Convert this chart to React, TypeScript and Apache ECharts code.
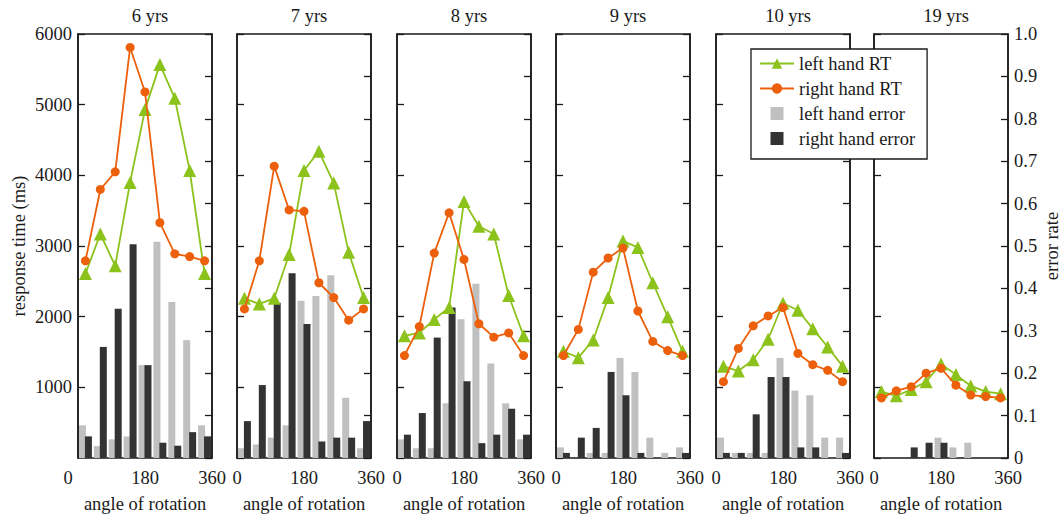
import React, { useEffect, useRef } from "react";
import * as echarts from "echarts";

// ---- data ----
const angles = ["0", "45", "90", "135", "180", "225", "270", "315", "360"];
const panelTitles = ["6 yrs", "7 yrs", "8 yrs", "9 yrs", "10 yrs", "19 yrs"];

const leftRT6 = [2610, 3170, 2720, 3900, 4930, 5570, 5090, 4070, 2610];
const rightRT6 = [2790, 3800, 4050, 5810, 5180, 3330, 2890, 2850, 2790];
const leftErr6 = [0.077, 0.028, 0.044, 0.051, 0.219, 0.51, 0.368, 0.278, 0.077];
const rightErr6 = [0.051, 0.262, 0.352, 0.504, 0.219, 0.036, 0.029, 0.061, 0.051];

const leftRT7 = [2260, 2180, 2260, 2880, 4070, 4340, 3890, 2910, 2270];
const rightRT7 = [2110, 2790, 4130, 3510, 3490, 2480, 2270, 1950, 2110];
const leftErr7 = [0.023, 0.032, 0.048, 0.077, 0.371, 0.382, 0.431, 0.142, 0.023];
const rightErr7 = [0.087, 0.172, 0.366, 0.436, 0.316, 0.039, 0.048, 0.048, 0.087];

const leftRT8 = [1730, 1770, 1960, 2130, 3630, 3280, 3170, 2300, 1730];
const rightRT8 = [1450, 1860, 2900, 3470, 2810, 1900, 1710, 1770, 1450];
const leftErr8 = [0.044, 0.023, 0.023, 0.129, 0.327, 0.411, 0.223, 0.129, 0.044];
const rightErr8 = [0.055, 0.106, 0.284, 0.355, 0.181, 0.035, 0.055, 0.116, 0.055];

const leftRT9 = [1510, 1420, 1670, 2270, 3070, 2980, 2480, 2000, 1510];
const rightRT9 = [1450, 1820, 2630, 2830, 2970, 2080, 1650, 1520, 1450];
const leftErr9 = [0.025, 0, 0.012, 0.012, 0.236, 0.203, 0.048, 0.012, 0.025];
const rightErr9 = [0.012, 0.048, 0.071, 0.203, 0.148, 0.012, 0, 0, 0.012];

const leftRT10 = [1300, 1230, 1390, 1680, 2190, 2090, 1830, 1570, 1300];
const rightRT10 = [1080, 1550, 1870, 2010, 2130, 1480, 1320, 1240, 1080];
const leftErr10 = [0.048, 0.012, 0.012, 0.012, 0.236, 0.159, 0.148, 0.048, 0.048];
const rightErr10 = [0.012, 0.012, 0.103, 0.191, 0.191, 0.025, 0.025, 0, 0.012];

const leftRT19 = [940, 880, 970, 1080, 1330, 1180, 1020, 940, 910];
const rightRT19 = [850, 950, 1010, 1200, 1270, 1030, 890, 870, 850];
const leftErr19 = [0, 0, 0, 0, 0.048, 0.025, 0.036, 0, 0];
const rightErr19 = [0, 0, 0.025, 0.036, 0.036, 0, 0, 0, 0];

const leftRT = [leftRT6, leftRT7, leftRT8, leftRT9, leftRT10, leftRT19];
const rightRT = [rightRT6, rightRT7, rightRT8, rightRT9, rightRT10, rightRT19];
const leftErr = [leftErr6, leftErr7, leftErr8, leftErr9, leftErr10, leftErr19];
const rightErr = [rightErr6, rightErr7, rightErr8, rightErr9, rightErr10, rightErr19];

// ---- layout / style ----
const panelLefts = [78, 237, 397, 556, 716, 874];
const panelWidth = 134;
const gridTop = 34;
const gridHeight = 429;
const FONT = "'Liberation Serif', 'Times New Roman', serif";
const FS = 18.5;
const INK = "#1a1a1a";
const GREEN = "#8cc21c";
const ORANGE = "#ec600c";
const LIGHT = "#c0c0c0";
const DARK = "#333333";

export default function App() {
  const ref = useRef<HTMLDivElement>(null);

  useEffect(() => {
    if (!ref.current) return;
    const chart = echarts.init(ref.current, undefined, { renderer: "svg" });
    const n = panelTitles.length;

    const grids: any[] = [];
    const xAxes: any[] = [];
    const yAxes: any[] = [];
    const series: any[] = [];
    const titles: any[] = [];
    const textStyle = { fontFamily: FONT, fontSize: FS, color: INK };

    for (let i = 0; i < n; i++) {
      grids.push({
        left: panelLefts[i],
        top: gridTop,
        width: panelWidth,
        height: gridHeight,
        show: true,
        borderColor: INK,
        borderWidth: 1.5,
        backgroundColor: "transparent",
      });
      titles.push({
        text: panelTitles[i],
        left: panelLefts[i] + panelWidth / 2,
        top: 1,
        textAlign: "center",
        textStyle: { ...textStyle, fontWeight: "normal" },
      });
      xAxes.push({
        gridIndex: i,
        type: "category",
        data: angles,
        boundaryGap: true,
        position: "bottom",
        axisLine: { show: false },
        axisTick: { show: false },
        axisLabel: { show: false },
        splitLine: { show: false },
      });
      xAxes.push({
        gridIndex: i,
        type: "value",
        min: 0,
        max: 360,
        interval: 180,
        position: "bottom",
        axisLine: { show: false },
        axisTick: { show: false },
        splitLine: { show: false },
        axisLabel: {
          ...textStyle,
          margin: 10,
          formatter: (v: number) =>
            i === 0 && v === 0 ? "{s|0}" : String(v),
          rich: { s: { ...textStyle, padding: [0, 20, 0, 0] } },
        },
        name: "angle of rotation",
        nameLocation: "middle",
        nameGap: 36,
        nameTextStyle: textStyle,
      });
      yAxes.push({
        gridIndex: i,
        type: "value",
        position: "left",
        min: 0,
        max: 6000,
        interval: 1000,
        axisLine: { show: true, lineStyle: { color: INK, width: 1.5 } },
        axisTick: { show: true, inside: true, length: 7, lineStyle: { color: INK, width: 1.3 } },
        axisLabel: {
          show: i === 0,
          ...textStyle,
          margin: 6,
          showMinLabel: false,
          formatter: (v: number) => String(v),
        },
        splitLine: { show: false },
        name: i === 0 ? "response time (ms)" : "",
        nameLocation: "middle",
        nameRotate: 90,
        nameGap: 50,
        nameTextStyle: textStyle,
      });
      yAxes.push({
        gridIndex: i,
        type: "value",
        position: "right",
        min: 0,
        max: 1,
        interval: 0.1,
        axisLine: { show: true, lineStyle: { color: INK, width: 1.5 } },
        axisTick: { show: true, inside: true, length: 7, lineStyle: { color: INK, width: 1.3 } },
        axisLabel: {
          show: i === n - 1,
          ...textStyle,
          margin: 6,
          formatter: (v: number) => (v === 0 ? "0" : v.toFixed(1)),
        },
        splitLine: { show: false },
        name: i === n - 1 ? "error rate" : "",
        nameLocation: "middle",
        nameRotate: 90,
        nameGap: 34,
        nameTextStyle: textStyle,
      });

      series.push({
        name: "left hand error",
        type: "bar",
        xAxisIndex: 2 * i,
        yAxisIndex: 2 * i + 1,
        data: leftErr[i],
        barWidth: 7,
        barGap: "-15%",
        itemStyle: { color: LIGHT },
        z: 2,
      });
      series.push({
        name: "right hand error",
        type: "bar",
        xAxisIndex: 2 * i,
        yAxisIndex: 2 * i + 1,
        data: rightErr[i],
        barWidth: 7,
        barGap: "-15%",
        itemStyle: { color: DARK },
        z: 3,
      });
      series.push({
        name: "left hand RT",
        type: "line",
        xAxisIndex: 2 * i,
        yAxisIndex: 2 * i,
        data: leftRT[i],
        symbol: "triangle",
        symbolSize: 13,
        showSymbol: true,
        showAllSymbol: true,
        lineStyle: { color: GREEN, width: 1.8 },
        itemStyle: { color: GREEN },
        z: 4,
      });
      series.push({
        name: "right hand RT",
        type: "line",
        xAxisIndex: 2 * i,
        yAxisIndex: 2 * i,
        data: rightRT[i],
        symbol: "circle",
        symbolSize: 9,
        showSymbol: true,
        showAllSymbol: true,
        lineStyle: { color: ORANGE, width: 1.8 },
        itemStyle: { color: ORANGE },
        z: 5,
      });
    }

    const square = "path://M0 0H10V10H0Z";
    chart.setOption({
      animation: false,
      backgroundColor: "#ffffff",
      title: titles,
      grid: grids,
      xAxis: xAxes,
      yAxis: yAxes,
      series,
      legend: {
        orient: "vertical",
        left: 751,
        top: 49,
        padding: [5, 12, 11, 8],
        itemWidth: 34,
        itemHeight: 13,
        itemGap: 6,
        borderColor: INK,
        borderWidth: 1.3,
        backgroundColor: "#ffffff",
        selectedMode: false,
        textStyle: { ...textStyle, lineHeight: 18 },
        data: [
          { name: "left hand RT" },
          { name: "right hand RT" },
          { name: "left hand error", icon: square },
          { name: "right hand error", icon: square },
        ],
      },
    });

    return () => chart.dispose();
  }, []);

  return (
    <div
      ref={ref}
      style={{ position: "absolute", left: 0, top: 0, width: 1064, height: 518 }}
    />
  );
}
